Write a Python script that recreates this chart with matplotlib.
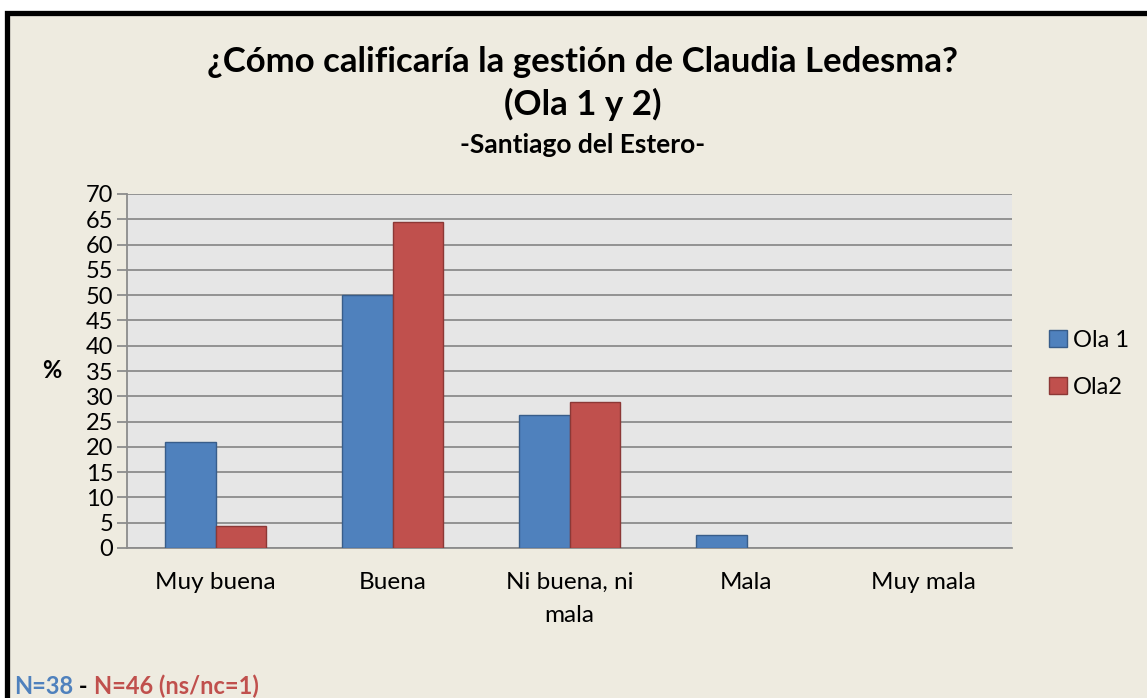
import matplotlib
matplotlib.use("Agg")
import matplotlib.pyplot as plt
from matplotlib.patches import Rectangle
import numpy as np

categories = ["Muy buena", "Buena", "Ni buena, ni\nmala", "Mala", "Muy mala"]
ola1 = [21.05, 50.0, 26.3, 2.6, 0.0]
ola2 = [4.4, 64.4, 28.9, 0.0, 0.0]
series_names = ["Ola 1", "Ola2"]
yticks = list(range(0, 75, 5))

W, H = 1147, 698
plt.rcParams['font.family'] = ['Lato', 'DejaVu Sans']
fig = plt.figure(figsize=(W/100, H/100), dpi=100, facecolor='white')

def fx(x): return x / W
def fy(y): return 1 - y / H

bg = '#EEEBE0'
fig.patches.append(Rectangle((fx(7), fy(720)), fx(1170) - fx(7), fy(13) - fy(720),
                             transform=fig.transFigure, facecolor=bg, edgecolor='black',
                             linewidth=3.8, zorder=-10))

ax = fig.add_axes([fx(127), fy(548), fx(1012) - fx(127), fy(194) - fy(548)])
ax.set_zorder(1)
ax.set_facecolor('#E6E6E6')
x = np.arange(len(categories))
w = 0.2857
b1 = ax.bar(x - w/2, ola1, w, color='#4F81BD', edgecolor='#385D8A', linewidth=1.0, label=series_names[0], zorder=3)
b2 = ax.bar(x + w/2, ola2, w, color='#C0504D', edgecolor='#8C3836', linewidth=1.0, label=series_names[1], zorder=3)
for bars in (b1, b2):
    for p in bars.patches:
        if p.get_height() == 0:
            p.set_visible(False)

ax.set_xlim(-0.5, len(categories) - 0.5)
ax.set_ylim(0, 70)
ax.set_yticks(yticks)
ax.set_yticklabels([str(t) for t in yticks], fontsize=17)
ax.yaxis.grid(True, color='#8C8C8C', linewidth=1.3, zorder=1)
ax.set_axisbelow(True)
ax.tick_params(axis='y', length=7, width=1.3, color='#8C8C8C', pad=3, labelcolor='black')
ax.set_xticks(x)
ax.set_xticklabels(categories, fontsize=17.5, linespacing=1.75)
ax.tick_params(axis='x', length=0, pad=17)
for s in ['top', 'right']:
    ax.spines[s].set_visible(False)
for s in ['left', 'bottom']:
    ax.spines[s].set_color('#8C8C8C')
    ax.spines[s].set_linewidth(1.3)

fig.text(fx(52), fy(370), '%', fontsize=17, fontweight='bold', ha='center', va='center')

leg = fig.legend(handles=[b1, b2], labels=series_names, loc='center left',
                 bbox_to_anchor=(fx(1028), fy(364)), frameon=False, fontsize=17,
                 handlelength=0.75, handleheight=0.75, handletextpad=0.25, labelspacing=1.1)

fig.text(fx(583), fy(62), '¿Cómo calificaría la gestión de Claudia Ledesma?', fontsize=25,
         fontweight='bold', ha='center', va='center')
fig.text(fx(583), fy(104), '(Ola 1 y 2)', fontsize=25, fontweight='bold', ha='center', va='center')
fig.text(fx(583), fy(145), '-Santiago del Estero-', fontsize=19, fontweight='bold', ha='center', va='center')

t1 = fig.text(fx(14), fy(694), 'N=38', fontsize=17, fontweight='bold', color='#4F81BD', ha='left', va='baseline')
t2 = fig.text(0, 0, ' - ', fontsize=17, fontweight='bold', color='black')
t3 = fig.text(0, 0, 'N=46 (ns/nc=1)', fontsize=17, fontweight='bold', color='#C0504D')
fig.canvas.draw()
r = fig.canvas.get_renderer()
bb = t1.get_window_extent(r)
t2.set_position((bb.x1 / W, fy(694)))
t2.set_va('baseline')
fig.canvas.draw()
bb2 = t2.get_window_extent(r)
t3.set_position((bb2.x1 / W, fy(694)))
t3.set_va('baseline')

fig.savefig('out.png', dpi=100, facecolor='white')
